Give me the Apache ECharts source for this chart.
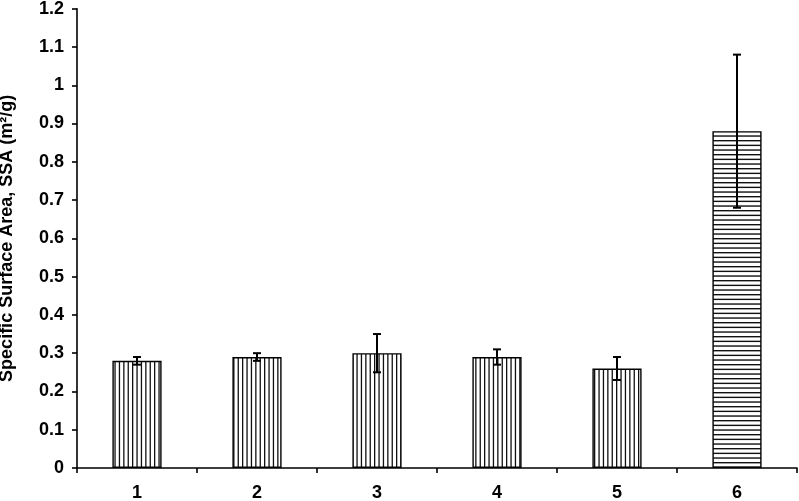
<!DOCTYPE html>
<html>
<head>
<meta charset="utf-8">
<script src="https://cdn.jsdelivr.net/npm/echarts@6/dist/echarts.min.js"></script>
<style>html,body{margin:0;padding:0;background:#fff}#c{width:799px;height:501px}</style>
</head>
<body>
<div id="c"></div>
<script>
var categories = ['1', '2', '3', '4', '5', '6'];
var ssa = [0.28, 0.29, 0.30, 0.29, 0.26, 0.88];
var errs = [0.01, 0.01, 0.05, 0.02, 0.03, 0.20];
var yTicks = [0, 0.1, 0.2, 0.3, 0.4, 0.5, 0.6, 0.7, 0.8, 0.9, 1, 1.1, 1.2];

function stripes(vertical) {
  var c = document.createElement('canvas');
  var n = vertical ? 5 : 3;
  var step = vertical ? 4.4 : 4.67;
  var size = Math.round(n * step);
  c.width = vertical ? size : 8;
  c.height = vertical ? 8 : size;
  var ctx = c.getContext('2d');
  ctx.fillStyle = '#fff';
  ctx.fillRect(0, 0, c.width, c.height);
  ctx.fillStyle = '#111';
  for (var i = 0; i < n; i++) {
    var p = i * step;
    if (vertical) ctx.fillRect(p, 0, 1.3, c.height);
    else ctx.fillRect(0, p, c.width, 1.4);
  }
  return c;
}
var vPat = stripes(true), hPat = stripes(false);

var barData = ssa.map(function (v, i) {
  return {
    value: v,
    itemStyle: { color: { image: i === 5 ? hPat : vPat, repeat: 'repeat' } }
  };
});
var errData = ssa.map(function (v, i) { return [i, v - errs[i], v + errs[i]]; });

var font = '"Liberation Sans", Arial, sans-serif';
var chart = echarts.init(document.getElementById('c'), null, { renderer: 'canvas' });
chart.setOption({
  animation: false,
  backgroundColor: '#fff',
  grid: { left: 77, right: 2, top: 8.7, bottom: 33, containLabel: false, outerBoundsMode: 'none' },
  xAxis: {
    type: 'category',
    data: categories,
    boundaryGap: true,
    axisLine: { lineStyle: { color: '#000', width: 1.6 } },
    axisTick: { show: true, length: 5, inside: false, lineStyle: { color: '#000', width: 1.6 } },
    axisLabel: { color: '#000', fontWeight: 'bold', fontSize: 18, fontFamily: font, margin: 16 }
  },
  yAxis: {
    type: 'value',
    min: 0, max: 1.2, interval: 0.1,
    name: 'Specific Surface Area, SSA (m²/g)',
    nameLocation: 'middle',
    nameGap: 61,
    nameTextStyle: { color: '#000', fontWeight: 'bold', fontSize: 18, fontFamily: font },
    splitLine: { show: false },
    axisLine: { show: true, lineStyle: { color: '#000', width: 1.6 } },
    axisTick: { show: true, length: 5, inside: false, lineStyle: { color: '#000', width: 1.6 } },
    axisLabel: {
      color: '#000', fontWeight: 'bold', fontSize: 18, fontFamily: font, margin: 13,
      formatter: function (v) {
        var r = Math.round(v * 10) / 10;
        return yTicks.indexOf(r) >= 0 ? String(r) : '';
      }
    }
  },
  series: [
    {
      type: 'bar',
      data: barData,
      barWidth: '41%',
      itemStyle: { borderColor: '#000', borderWidth: 1.4 },
      z: 2
    },
    {
      type: 'custom',
      data: errData,
      z: 5,
      renderItem: function (params, api) {
        var x = api.value(0);
        var lo = api.coord([x, api.value(1)]);
        var hi = api.coord([x, api.value(2)]);
        var w = 4;
        var st = { stroke: '#000', lineWidth: 2 };
        return {
          type: 'group',
          children: [
            { type: 'line', shape: { x1: hi[0], y1: hi[1], x2: lo[0], y2: lo[1] }, style: st },
            { type: 'line', shape: { x1: hi[0] - w, y1: hi[1], x2: hi[0] + w, y2: hi[1] }, style: st },
            { type: 'line', shape: { x1: lo[0] - w, y1: lo[1], x2: lo[0] + w, y2: lo[1] }, style: st }
          ]
        };
      }
    }
  ]
});
</script>
</body>
</html>
